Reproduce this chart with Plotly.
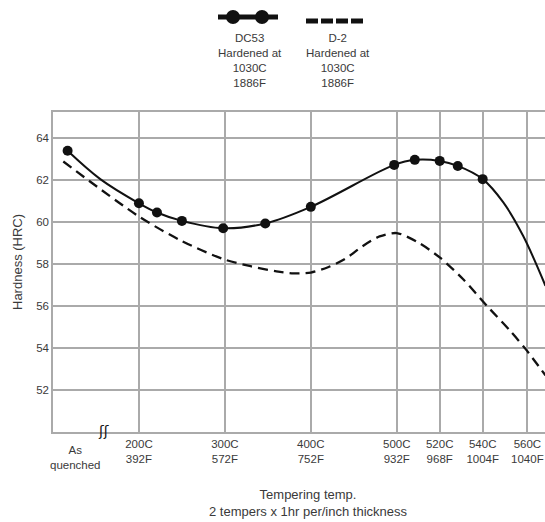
import plotly.graph_objects as go

# Axis positions (category-like scale used by the chart)
tick_pos = [1, 2, 3, 4, 4.5, 5, 5.52]
tick_text = ["200C<br>392F", "300C<br>572F", "400C<br>752F", "500C<br>932F",
             "520C<br>968F", "540C<br>1004F", "560C<br>1040F"]
as_quenched_pos = 0.26
y_ticks = [52, 54, 56, 58, 60, 62, 64]

# DC53 measured points (markers)
dc53_x = [0.17, 1.0, 1.21, 1.5, 1.98, 2.47, 3.0, 3.97, 4.21, 4.5, 4.71, 5.0]
dc53_y = [63.40, 60.90, 60.46, 60.06, 59.71, 59.94, 60.73, 62.73, 62.97, 62.92, 62.68, 62.05]
# DC53 curve points read between/after markers (line only)
dc53_mid_x = [0.55]
dc53_mid_y = [62.05]
dc53_tail_x = [5.24, 5.47, 5.73]
dc53_tail_y = [60.94, 59.35, 56.97]

# D-2 curve
d2_x = [0.12, 1.0, 1.5, 1.98, 2.3, 2.6, 2.8, 3.0, 3.2, 3.4, 3.6, 3.8, 4.0, 4.25, 4.5, 4.77, 5.05, 5.32, 5.50, 5.73]
d2_y = [62.89, 60.27, 59.10, 58.24, 57.90, 57.66, 57.56, 57.60, 57.85, 58.25, 58.85, 59.32, 59.48, 59.03, 58.32, 57.29, 56.01, 54.82, 53.95, 52.70]

grid = "#aaaaaa"
txt = "#3a3a3a"
font = "Liberation Sans"

line_x = [dc53_x[0]] + dc53_mid_x + dc53_x[1:] + dc53_tail_x
line_y = [dc53_y[0]] + dc53_mid_y + dc53_y[1:] + dc53_tail_y

fig = go.Figure()
fig.add_trace(go.Scatter(x=d2_x, y=d2_y, mode="lines",
                         line=dict(color="#111111", width=2.3, dash="10px,6px", shape="spline", smoothing=0.8),
                         hoverinfo="skip", showlegend=False))
fig.add_trace(go.Scatter(x=line_x, y=line_y, mode="lines",
                         line=dict(color="#111111", width=2, shape="spline", smoothing=1.0),
                         hoverinfo="skip", showlegend=False))
fig.add_trace(go.Scatter(x=dc53_x, y=dc53_y, mode="markers",
                         marker=dict(color="#111111", size=10),
                         hoverinfo="skip", showlegend=False))

W, H = 545, 522
L, R, T, B = 53, 0, 112, 90
pw = W - L - R
ph = H - T - B

def px(xpix):
    return (xpix - L) / pw

def py(ypix):
    return 1 - (ypix - T) / ph

shapes = []
# legend: DC53 thick line with two dots
shapes.append(dict(type="line", xref="paper", yref="paper", x0=px(218), x1=px(278), y0=py(17), y1=py(17),
                   line=dict(color="#111111", width=5)))
for cx in [233, 262]:
    shapes.append(dict(type="circle", xref="paper", yref="paper", x0=px(cx - 7), x1=px(cx + 7),
                       y0=py(17 + 7), y1=py(17 - 7), fillcolor="#111111", line=dict(color="#111111", width=0)))
# legend: D-2 dashed
for i in range(4):
    x0 = 306 + i * 15
    shapes.append(dict(type="line", xref="paper", yref="paper", x0=px(x0), x1=px(x0 + 12), y0=py(21), y1=py(21),
                       line=dict(color="#111111", width=5)))

annotations = [
    dict(text="DC53<br>Hardened at<br>1030C<br>1886F", x=px(250), y=py(30), xref="paper", yref="paper",
         xanchor="center", yanchor="top", showarrow=False, font=dict(size=11.5, color=txt, family=font), align="center"),
    dict(text="D-2<br>Hardened at<br>1030C<br>1886F", x=px(338), y=py(30), xref="paper", yref="paper",
         xanchor="center", yanchor="top", showarrow=False, font=dict(size=11.5, color=txt, family=font), align="center"),
    dict(text="As<br>quenched", x=as_quenched_pos, y=py(442), xref="x", yref="paper",
         xanchor="center", yanchor="top", showarrow=False, font=dict(size=11.5, color=txt, family=font)),
    dict(text="Tempering temp.<br>2 tempers x 1hr per/inch thickness", x=px(308), y=py(485), xref="paper", yref="paper",
         xanchor="center", yanchor="top", showarrow=False, font=dict(size=13, color=txt, family=font)),
    dict(text="Hardness (HRC)", x=px(17), y=py(262), xref="paper", yref="paper", textangle=-90,
         xanchor="center", yanchor="middle", showarrow=False, font=dict(size=13, color=txt, family=font)),
    dict(text="ʃʃ", x=px(103), y=py(431), xref="paper", yref="paper",
         xanchor="center", yanchor="middle", showarrow=False, font=dict(size=14, color="#111111", family="DejaVu Sans")),
]

fig.update_layout(
    width=W, height=H,
    margin=dict(l=L, r=R, t=T, b=B),
    paper_bgcolor="white", plot_bgcolor="white",
    showlegend=False,
    shapes=shapes, annotations=annotations,
    xaxis=dict(range=[0, 5.725], tickmode="array", tickvals=tick_pos, ticktext=tick_text,
               showgrid=True, gridcolor=grid, gridwidth=1.5, showline=True, linecolor=grid, linewidth=1.5,
               mirror=True, ticks="", zeroline=False, tickfont=dict(size=11.5, color=txt, family=font)),
    yaxis=dict(range=[50, 65.25], tickmode="array", tickvals=y_ticks,
               showgrid=True, gridcolor=grid, gridwidth=1.5, showline=True, linecolor=grid, linewidth=1.5,
               ticks="", zeroline=False, tickfont=dict(size=11.5, color=txt, family=font)),
)

fig.write_html("out.html", config={"displayModeBar": False},
               post_script="document.body.style.margin='0';document.body.style.overflow='hidden';")
